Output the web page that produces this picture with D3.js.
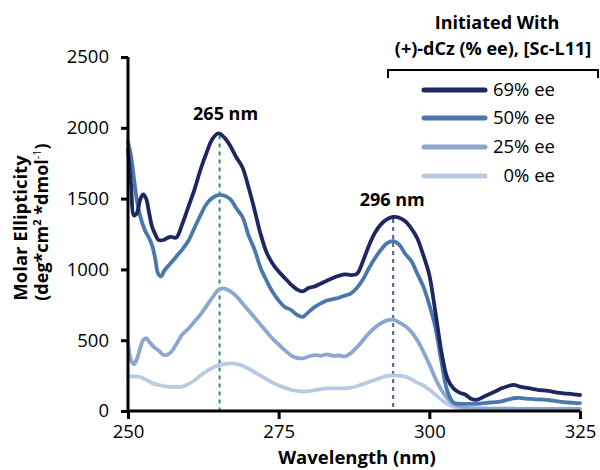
<!DOCTYPE html>
<html>
<head>
<meta charset="utf-8">
<script src="https://cdn.jsdelivr.net/npm/d3@7"></script>
<style>
  html, body { margin: 0; padding: 0; background: #fff; }
  svg { display: block; }
  text { font-family: "Open Sans", "DejaVu Sans", sans-serif; fill: #000; }
</style>
</head>
<body>
<svg id="chart" width="600" height="470"></svg>
<script>
// ---------------- DATA ----------------
const wavelengths = [250,250.5,251,251.5,252,252.5,253,253.5,254,254.5,255,255.5,256,257,258,259,260,261,262,263,264,265,266,267,268,269,270,271,272,273,274,275,276,277,278,279,280,281,282,283,284,285,286,287,288,289,290,291,292,293,294,295,296,297,298,299,300,301,302,303,304,305,306,307,308,309,310,311,312,313,314,315,316,317,318,319,320,321,322,323,324,325];

const ee69 = [1850,1600,1380,1400,1490,1530,1500,1400,1300,1250,1210,1205,1210,1230,1225,1320,1440,1560,1700,1820,1920,1960,1930,1870,1790,1720,1580,1420,1250,1120,1040,985,940,895,860,845,870,880,900,920,940,955,965,960,970,1060,1170,1260,1320,1355,1370,1365,1340,1290,1220,1100,960,700,420,230,160,130,115,85,80,100,120,140,160,175,185,172,165,157,150,145,140,132,126,122,118,113];

const ee50 = [1900,1800,1640,1480,1380,1310,1260,1220,1170,1080,970,950,990,1040,1090,1140,1200,1290,1380,1460,1505,1525,1520,1495,1430,1370,1240,1140,1010,920,840,780,735,715,680,665,700,735,760,780,790,800,815,830,870,930,1010,1080,1140,1185,1200,1175,1110,1060,970,880,750,590,350,140,60,52,50,50,50,55,60,62,68,80,90,92,88,85,82,80,76,70,65,60,58,55];

const ee25 = [480,360,330,370,440,500,515,490,465,445,430,410,395,410,470,540,580,630,680,740,800,855,865,845,810,760,710,660,610,560,510,470,430,395,375,372,385,395,390,400,390,392,385,410,450,500,550,590,620,640,645,625,600,560,500,420,330,230,150,90,50,32,24,20,18,18,17,17,16,16,16,15,15,15,15,15,15,15,15,15,15,15];

const ee0 = [242,244,245,243,240,232,222,210,198,190,185,180,175,170,170,172,190,215,250,280,305,322,332,337,333,320,300,275,250,225,200,180,165,150,142,138,140,148,155,160,160,160,160,165,175,190,205,220,235,248,252,250,242,225,200,180,150,115,80,50,30,20,15,12,10,10,10,10,10,10,10,10,10,10,10,10,10,10,10,10,10,10];

const seriesNames = ["69% ee", "50% ee", "25% ee", "0% ee"];
const seriesColors = ["#1e2761", "#4a78ad", "#8ba7d0", "#b9cae3"];
const xTicks = [250, 275, 300, 325];
const yTicks = [0, 500, 1000, 1500, 2000, 2500];
const peakMarks = [265.2, 294.0];
const peakLabels = ["265 nm", "296 nm"];
const peakHeights = [1960, 1370];
const peakColors = ["#3b8c6e", "#3f5f9e"];
const legendTitle1 = "Initiated With";
const legendTitle2 = "(+)-dCz (% ee), [Sc-L11]";

// ---------------- CHART ----------------
const svg = d3.select("#chart");
const x = d3.scaleLinear().domain([250, 325]).range([128, 580]);
const y = d3.scaleLinear().domain([0, 2500]).range([411, 57]);

const seriesValues = [ee69, ee50, ee25, ee0];

// peak dashed markers
peakMarks.forEach((p, i) => {
  svg.append("line")
    .attr("x1", x(p)).attr("x2", x(p))
    .attr("y1", y(peakHeights[i]) + 2).attr("y2", y(0))
    .attr("stroke", peakColors[i]).attr("stroke-width", 2)
    .attr("stroke-dasharray", "4,4");
});

// curves (draw lightest first)
const line = d3.line()
  .x((d, i) => x(wavelengths[i]))
  .y(d => y(d))
  .curve(d3.curveCatmullRom.alpha(0.5));

for (let s = seriesValues.length - 1; s >= 0; s--) {
  svg.append("path")
    .datum(seriesValues[s])
    .attr("d", line)
    .attr("fill", "none")
    .attr("stroke", seriesColors[s])
    .attr("stroke-width", 3.8)
    .attr("stroke-linejoin", "round")
    .attr("stroke-linecap", "round");
}

// axes
const yAxis = d3.axisLeft(y).tickValues(yTicks).tickSize(7).tickPadding(12).tickFormat(d3.format("d"));
const xAxis = d3.axisBottom(x).tickValues(xTicks).tickSize(8).tickPadding(6).tickFormat(d3.format("d"));

const gy = svg.append("g").attr("transform", "translate(128,0)").call(yAxis);
const gx = svg.append("g").attr("transform", "translate(0,411)").call(xAxis);
[gx, gy].forEach(g => {
  g.select(".domain").attr("stroke", "#000").attr("stroke-width", 3);
  g.selectAll(".tick line").attr("stroke", "#000").attr("stroke-width", 3);
  g.selectAll(".tick text").style("font-family", "'Open Sans', sans-serif").style("font-size", "18.5px").attr("fill", "#222");
});
gy.select(".domain").attr("d", "M0,57V411");
gx.select(".domain").attr("d", "M128,0H580");

// peak labels
peakMarks.forEach((p, i) => {
  svg.append("text")
    .attr("x", i === 0 ? x(p) + 6 : x(p) - 1)
    .attr("y", i === 0 ? 120 : 206)
    .attr("text-anchor", "middle")
    .style("font-size", "18px").style("font-weight", "bold")
    .text(peakLabels[i]);
});

// axis titles
svg.append("text")
  .attr("x", 357).attr("y", 464)
  .attr("text-anchor", "middle")
  .style("font-size", "18.5px").style("font-weight", "bold")
  .text("Wavelength (nm)");

const yt = svg.append("g").attr("transform", "translate(27,228) rotate(-90)");
yt.append("text")
  .attr("text-anchor", "middle")
  .style("font-size", "18.5px").style("font-weight", "bold")
  .text("Molar Ellipticity");
const yt2 = svg.append("g").attr("transform", "translate(48,222) rotate(-90)");
const t2 = yt2.append("text")
  .attr("text-anchor", "middle")
  .style("font-size", "18px").style("font-weight", "bold");
t2.append("tspan").text("(deg*cm");
t2.append("tspan").attr("dy", -7).style("font-size", "11px").text("2");
t2.append("tspan").attr("dy", 7).text(" *dmol");
t2.append("tspan").attr("dy", -7).style("font-size", "11px").style("font-weight", "normal").text("-1");
t2.append("tspan").attr("dy", 7).text(")");

// legend
svg.append("text").attr("x", 497).attr("y", 29).attr("text-anchor", "middle")
  .style("font-size", "18px").style("font-weight", "bold").text(legendTitle1);
svg.append("text").attr("x", 493).attr("y", 55).attr("text-anchor", "middle")
  .style("font-size", "18px").style("font-weight", "bold").text(legendTitle2);
svg.append("path")
  .attr("d", "M388,78V70H598V78")
  .attr("fill", "none").attr("stroke", "#000").attr("stroke-width", 2);

const legendY = [90, 118, 147, 176];
seriesNames.forEach((n, i) => {
  svg.append("line")
    .attr("x1", 424).attr("x2", 485)
    .attr("y1", legendY[i]).attr("y2", legendY[i])
    .attr("stroke", seriesColors[i]).attr("stroke-width", 5)
    .attr("stroke-linecap", "round");
  svg.append("text")
    .attr("x", 555).attr("y", legendY[i] + 6)
    .attr("text-anchor", "end")
    .style("font-size", "18.5px").attr("fill", "#222")
    .text(n);
});
</script>
</body>
</html>
